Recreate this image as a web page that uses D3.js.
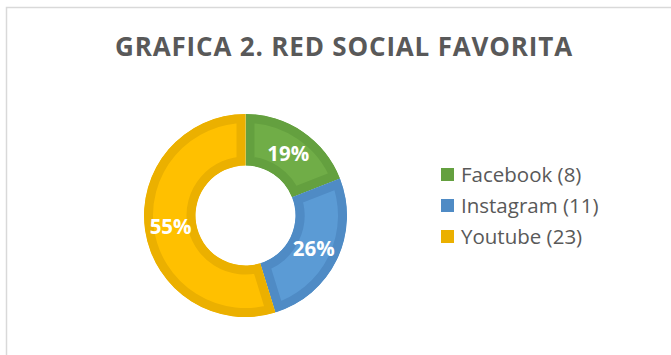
<!DOCTYPE html>
<html>
<head>
<meta charset="utf-8">
<script src="https://cdn.jsdelivr.net/npm/d3@7/dist/d3.min.js"></script>
<style>
  body { margin: 0; background: #fff; }
  svg { display: block; }
</style>
</head>
<body>
<div id="chart"></div>
<script>
// data
var redes = ["Facebook", "Instagram", "Youtube"];
var votos = [8, 11, 23];
var colores = ["#70AD47", "#5B9BD5", "#FFC000"];
var bordes = ["#64A03F", "#4F8BC5", "#EBB000"];

var width = 671, height = 355;
var cx = 245.5, cy = 215.5;
var outerR = 101.5, innerR = 50;

var svg = d3.select("#chart")
    .append("svg")
    .attr("width", width)
    .attr("height", height);

// chart frame (right / bottom edges are cut off)
svg.append("rect")
    .attr("x", 6.5)
    .attr("y", 7.5)
    .attr("width", 700)
    .attr("height", 400)
    .attr("fill", "none")
    .attr("stroke", "#d9d9d9")
    .attr("stroke-width", 1.5);

var title = svg.append("text")
    .attr("x", 344)
    .attr("y", 56)
    .attr("text-anchor", "middle")
    .attr("font-family", "Open Sans")
    .attr("font-weight", "bold")
    .attr("font-size", 26)
    .attr("fill", "#595959")
    .text("GRAFICA 2. RED SOCIAL FAVORITA");

// stretch the title to the width seen in the picture (~457px)
var tw = title.node().getComputedTextLength();
var n = title.text().length;
title.attr("letter-spacing", Math.max(0, (457 - tw) / (n - 1)));

var total = d3.sum(votos);

var pie = d3.pie()
    .sort(null)
    .value(function(d) { return d; });

var arc = d3.arc()
    .innerRadius(innerR)
    .outerRadius(outerR);

var g = svg.append("g")
    .attr("transform", "translate(" + cx + "," + cy + ")");

var slices = g.selectAll(".slice")
    .data(pie(votos))
    .enter()
    .append("g")
    .attr("class", "slice");

slices.append("clipPath")
    .attr("id", function(d, i) { return "clip" + i; })
    .append("path")
    .attr("d", arc);

slices.append("path")
    .attr("d", arc)
    .attr("fill", function(d, i) { return colores[i]; })
    .attr("stroke", function(d, i) { return bordes[i]; })
    .attr("stroke-width", 18)
    .attr("clip-path", function(d, i) { return "url(#clip" + i + ")"; });

slices.append("text")
    .attr("transform", function(d) {
        return "translate(" + arc.centroid(d) + ")";
    })
    .attr("text-anchor", "middle")
    .attr("dy", "0.37em")
    .attr("font-family", "Open Sans")
    .attr("font-weight", "bold")
    .attr("font-size", 20.5)
    .attr("fill", "white")
    .text(function(d) {
        return Math.round(d.value / total * 100) + "%";
    });

// legend
var legend = svg.selectAll(".legend")
    .data(redes)
    .enter()
    .append("g")
    .attr("class", "legend")
    .attr("transform", function(d, i) {
        return "translate(441," + (174.5 + i * 31) + ")";
    });

legend.append("rect")
    .attr("x", 0)
    .attr("y", -6.5)
    .attr("width", 13)
    .attr("height", 13)
    .attr("fill", function(d, i) { return bordes[i]; });

legend.append("text")
    .attr("x", 20)
    .attr("dy", "0.37em")
    .attr("font-family", "Open Sans")
    .attr("font-size", 20.5)
    .attr("fill", "#595959")
    .text(function(d, i) { return d + " (" + votos[i] + ")"; });
</script>
</body>
</html>
